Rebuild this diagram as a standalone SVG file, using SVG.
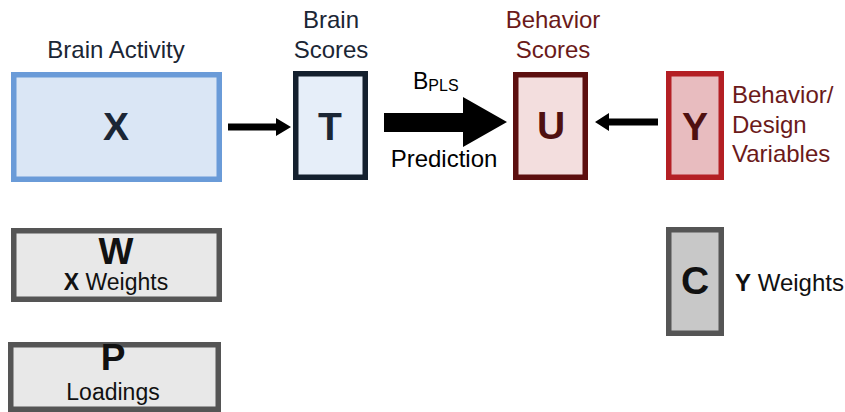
<svg xmlns="http://www.w3.org/2000/svg" width="845" height="412" viewBox="0 0 845 412">
<style>
text{font-family:"Liberation Sans",Arial,sans-serif}
.lbl{font-size:24px;fill:#1b2635}
.red{font-size:24px;fill:#6b1a1a}
.big{font-size:39px;font-weight:bold}
.sub{font-size:23px;fill:#111}
.gray{fill:#e8e8e8;stroke:#555;stroke-width:5.5}
.arr{fill:#000}
</style>
<g id="connectors">
<path class="arr" d="M228,123.5 L276,123.5 L276,118 L291,127 L276,136 L276,130.5 L228,130.5 z"/>
<path class="arr" d="M658,118.5 L609,118.5 L609,113 L595,122 L609,131 L609,125.5 L658,125.5 z"/>
<path class="arr" d="M384,113 L463,113 L463,97 L507,122 L463,147 L463,132 L384,132 z"/>
<text x="413" y="89" font-size="23" fill="#000">B<tspan font-size="16" dy="2">PLS</tspan></text>
<text x="444" y="167" font-size="24" text-anchor="middle" fill="#000">Prediction</text>
</g>
<g id="X">
<text x="116" y="58" class="lbl" text-anchor="middle">Brain Activity</text>
<rect x="13.75" y="74.75" width="205.5" height="104.5" fill="#dae6f5" stroke="#6a9bd8" stroke-width="5.5"/>
<text x="116" y="140" class="big" text-anchor="middle" fill="#1b2635">X</text>
</g>
<g id="T">
<text x="331" y="28" class="lbl" text-anchor="middle">Brain</text>
<text x="331" y="58" class="lbl" text-anchor="middle">Scores</text>
<rect x="295.75" y="73.75" width="69.5" height="103.5" fill="#e6eef9" stroke="#14202e" stroke-width="5.5"/>
<text x="330" y="140" class="big" text-anchor="middle" fill="#1b2635">T</text>
</g>
<g id="U">
<text x="553" y="28" class="red" text-anchor="middle">Behavior</text>
<text x="553" y="58" class="red" text-anchor="middle">Scores</text>
<rect x="515.75" y="74.75" width="69.5" height="102.5" fill="#f3dede" stroke="#5c0f0f" stroke-width="5.5"/>
<text x="551" y="139" class="big" text-anchor="middle" fill="#4f1010">U</text>
</g>
<g id="Y">
<rect x="668.75" y="73.75" width="52.5" height="103.5" fill="#e8bcbf" stroke="#b41f24" stroke-width="5.5"/>
<text x="695" y="140" class="big" text-anchor="middle" fill="#4f1010">Y</text>
<text x="732" y="103" class="red">Behavior/</text>
<text x="732" y="133" class="red">Design</text>
<text x="732" y="162" class="red">Variables</text>
</g>
<g id="W">
<rect x="13.75" y="230.75" width="205.5" height="68.5" class="gray"/>
<text x="116" y="264" font-size="37" font-weight="bold" text-anchor="middle" fill="#111">W</text>
<text x="116" y="290" class="sub" text-anchor="middle"><tspan font-weight="bold">X</tspan> Weights</text>
</g>
<g id="P">
<rect x="10.75" y="344.75" width="207.5" height="64.5" class="gray"/>
<text x="113" y="370" font-size="37" font-weight="bold" text-anchor="middle" fill="#111">P</text>
<text x="113" y="400" class="sub" text-anchor="middle">Loadings</text>
</g>
<g id="C">
<rect x="668.75" y="229.75" width="52.5" height="103.5" class="gray" style="fill:#c8c8c8"/>
<text x="695" y="294" class="big" text-anchor="middle" fill="#111">C</text>
<text x="735" y="291" font-size="24" fill="#111"><tspan font-weight="bold">Y</tspan> Weights</text>
</g>
</svg>
